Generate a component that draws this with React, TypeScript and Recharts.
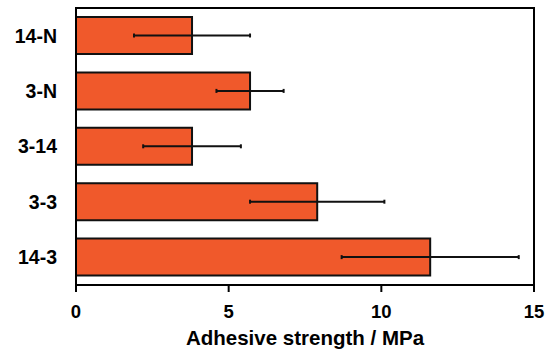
import React from 'react';
import {
  BarChart,
  Bar,
  XAxis,
  YAxis,
  ErrorBar,
  ReferenceArea
} from 'recharts';

// 試料名（上から順）
const samples = ['14-N', '3-N', '3-14', '3-3', '14-3'];
// 接着強度の平均値 (MPa)
const strength = [3.8, 5.7, 3.8, 7.9, 11.6];
// 標準偏差
const deviation = [1.9, 1.1, 1.6, 2.2, 2.9];
const xTicks = [0, 5, 10, 15];

const data = samples.map((name, i) => ({
  name,
  value: strength[i],
  err: deviation[i]
}));

const FONT = '"Liberation Sans", Arial, sans-serif';

const App: React.FC = () => {
  return (
    <div style={{ position: 'absolute', left: 0, top: 0, background: '#fff' }}>
      <BarChart
        width={552}
        height={351}
        data={data}
        layout="vertical"
        margin={{ top: 8, right: 18, bottom: 0, left: 0 }}
        barSize={37}
      >
        <XAxis
          type="number"
          domain={[0, 15]}
          ticks={xTicks}
          allowDataOverflow
          height={66}
          stroke="#000"
          strokeWidth={2}
          tickSize={7}
          tickMargin={13}
          tick={{ fill: '#000', fontSize: 18.5, fontWeight: 'bold', fontFamily: FONT }}
          label={{
            value: 'Adhesive strength / MPa',
            position: 'insideBottom',
            offset: 6,
            fill: '#000',
            fontSize: 20.5,
            fontWeight: 'bold',
            fontFamily: FONT
          }}
        />
        <YAxis
          type="category"
          dataKey="name"
          width={76}
          stroke="#000"
          strokeWidth={2}
          tickLine={false}
          tickSize={0}
          tickMargin={19}
          tick={{ fill: '#000', fontSize: 19.5, fontWeight: 'bold', fontFamily: FONT }}
        />
        <ReferenceArea x1={0} x2={15} fill="none" stroke="#000" strokeWidth={2} />
        <Bar
          dataKey="value"
          fill="#F0592B"
          stroke="#111"
          strokeWidth={2}
          isAnimationActive={false}
        >
          <ErrorBar
            dataKey="err"
            direction="x"
            width={2}
            stroke="#111"
            strokeWidth={2}
          />
        </Bar>
      </BarChart>
    </div>
  );
};

export default App;
